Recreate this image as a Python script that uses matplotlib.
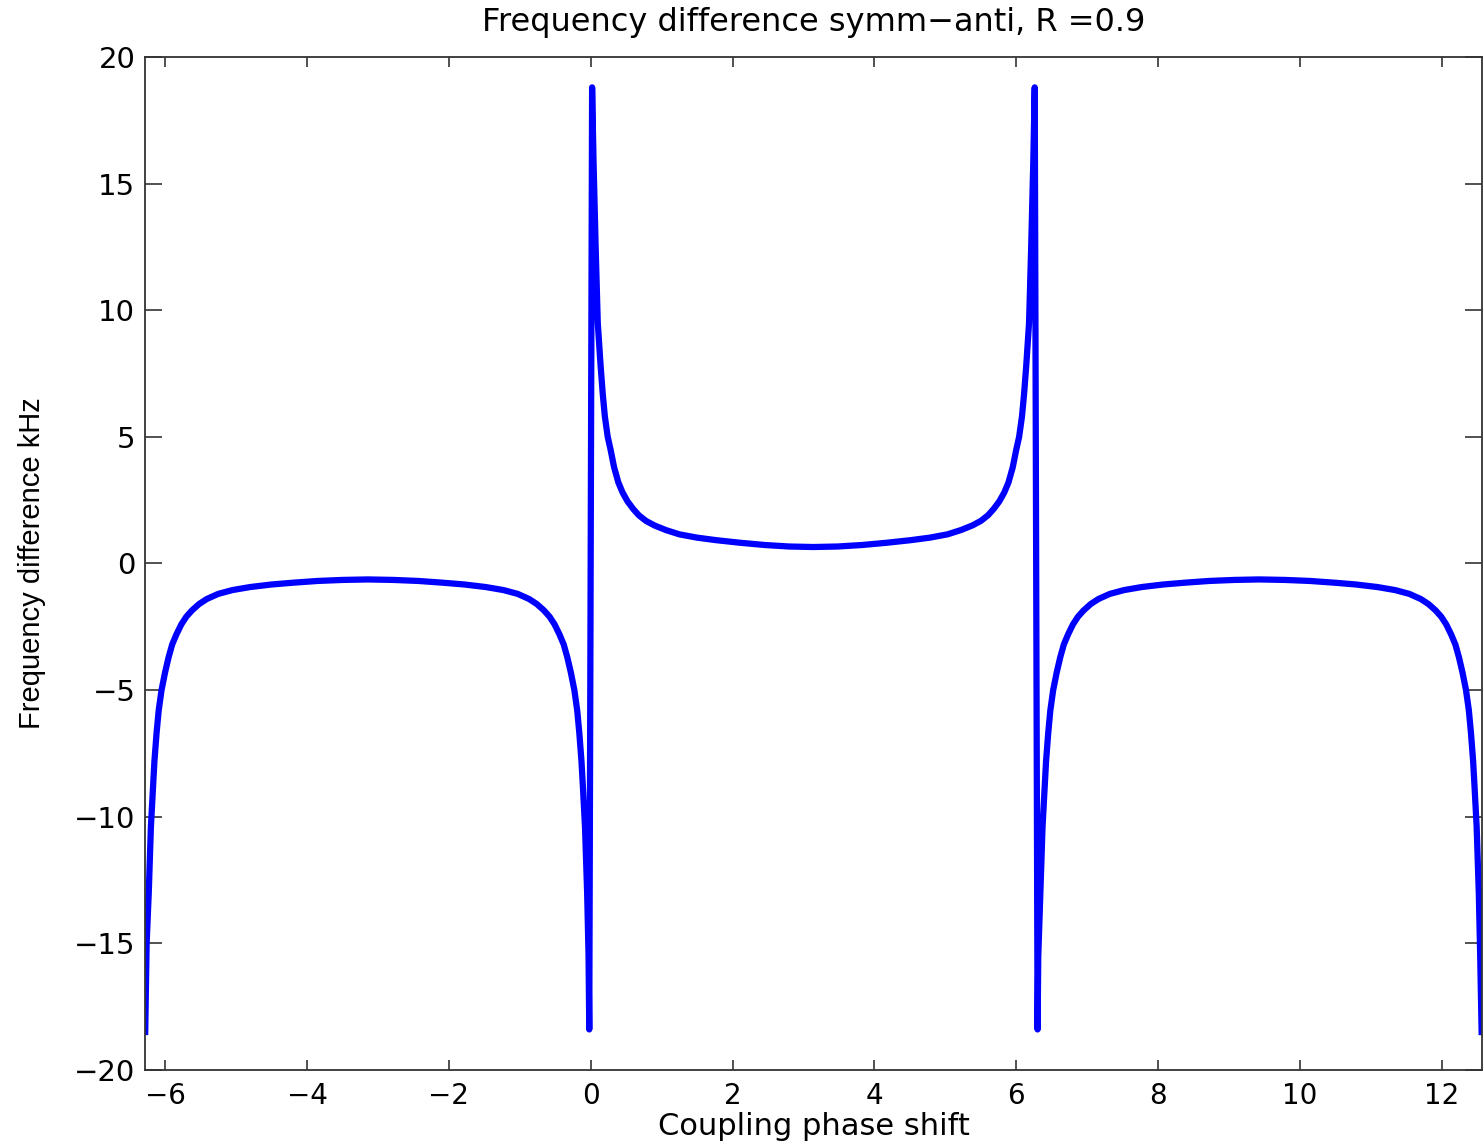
import numpy as np
import matplotlib
matplotlib.use("Agg")
import matplotlib.pyplot as plt

# values (phase in rad, difference in kHz)
phase = [
    # -2pi .. 0
    -6.28, -6.26, -6.23, -6.20, -6.17, -6.15, -6.12, -6.09, -6.05, -6.00,
    -5.95, -5.90, -5.84, -5.77, -5.70, -5.62, -5.52, -5.41, -5.25, -5.05,
    -4.80, -4.50, -4.20, -3.85, -3.50, -3.14, -2.78, -2.43, -2.08, -1.78,
    -1.48, -1.23, -1.03, -0.87, -0.76, -0.66, -0.58, -0.51, -0.44, -0.38,
    -0.33, -0.28, -0.23, -0.19, -0.16, -0.13, -0.11, -0.08, -0.05, -0.03,
    -0.02,
    # 0 .. 2pi
    0.02, 0.04, 0.07, 0.10, 0.14, 0.17, 0.20, 0.24, 0.28, 0.33,
    0.39, 0.45, 0.52, 0.60, 0.68, 0.78, 0.90, 1.06, 1.25, 1.50,
    1.77, 2.10, 2.45, 2.80, 3.14, 3.48, 3.83, 4.18, 4.51, 4.78,
    5.03, 5.22, 5.38, 5.50, 5.60, 5.68, 5.76, 5.83, 5.89, 5.95,
    6.00, 6.04, 6.08, 6.11, 6.14, 6.18, 6.21, 6.24, 6.26,
    # 2pi .. 4pi
    6.30, 6.31, 6.34, 6.37, 6.40, 6.42, 6.45, 6.48, 6.52, 6.57,
    6.62, 6.67, 6.73, 6.80, 6.87, 6.95, 7.05, 7.16, 7.32, 7.52,
    7.77, 8.07, 8.37, 8.72, 9.07, 9.42, 9.79, 10.14, 10.49, 10.79,
    11.09, 11.34, 11.54, 11.70, 11.81, 11.91, 11.99, 12.06, 12.13, 12.19,
    12.24, 12.29, 12.34, 12.38, 12.41, 12.44, 12.46, 12.49, 12.52, 12.54,
    12.56,
]
freq_diff = [
    -18.5, -15.0, -13.0, -10.4, -8.8, -7.8, -6.7, -5.8, -5.0, -4.3,
    -3.7, -3.2, -2.8, -2.4, -2.1, -1.85, -1.6, -1.4, -1.2, -1.05,
    -0.93, -0.83, -0.76, -0.69, -0.65, -0.63, -0.65, -0.69, -0.76, -0.83,
    -0.93, -1.05, -1.2, -1.4, -1.6, -1.85, -2.1, -2.4, -2.8, -3.2,
    -3.7, -4.3, -5.0, -5.8, -6.7, -7.8, -8.8, -10.4, -13.0, -15.5,
    -18.4,
    18.8, 15.9, 12.5, 9.5, 7.8, 6.7, 5.8, 5.0, 4.5, 3.8,
    3.2, 2.8, 2.45, 2.15, 1.9, 1.68, 1.5, 1.32, 1.15, 1.02,
    0.92, 0.82, 0.73, 0.67, 0.65, 0.67, 0.73, 0.82, 0.92, 1.02,
    1.15, 1.32, 1.5, 1.68, 1.9, 2.15, 2.45, 2.8, 3.2, 3.8,
    4.5, 5.0, 5.8, 6.7, 7.8, 9.5, 12.5, 15.9, 18.8,
    -18.4, -15.5, -13.0, -10.4, -8.8, -7.8, -6.7, -5.8, -5.0, -4.3,
    -3.7, -3.2, -2.8, -2.4, -2.1, -1.85, -1.6, -1.4, -1.2, -1.05,
    -0.93, -0.83, -0.76, -0.69, -0.65, -0.63, -0.65, -0.69, -0.76, -0.83,
    -0.93, -1.05, -1.2, -1.4, -1.6, -1.85, -2.1, -2.4, -2.8, -3.2,
    -3.7, -4.3, -5.0, -5.8, -6.7, -7.8, -8.8, -10.4, -13.0, -15.5,
    -18.5,
]
x_ticks = [-6, -4, -2, 0, 2, 4, 6, 8, 10, 12]
y_ticks = [-20, -15, -10, -5, 0, 5, 10, 15, 20]

plt.rcParams['font.family'] = ['DejaVu Sans']

fig = plt.figure(figsize=(14.84, 11.44), dpi=100)
ax = fig.add_axes([0.0977, 0.0647, 0.9010, 0.8855])

ax.plot(phase, freq_diff, color='#0000ff', linewidth=4.5)

ax.set_xlim(-2 * np.pi, 4 * np.pi)
ax.set_ylim(-20, 20)
ax.set_xticks(x_ticks)
ax.set_yticks(y_ticks)

for s in ax.spines.values():
    s.set_color('#333333')
    s.set_linewidth(1.3)

ax.tick_params(axis='both', direction='in', top=True, right=True,
               colors='#333333', labelcolor='black', width=1.2, labelsize=21)
ax.tick_params(axis='x', length=7, pad=9, labelsize=20)
ax.tick_params(axis='y', length=12, pad=7)

ax.set_title("Frequency difference symm\u2212anti, R =0.9", fontsize=23, pad=19)
ax.set_xlabel("Coupling phase shift", fontsize=22, labelpad=1)
ax.set_ylabel("Frequency difference kHz", fontsize=21, labelpad=20,
              family=['Liberation Sans Narrow', 'Liberation Sans', 'DejaVu Sans'])

fig.savefig("out.png", dpi=100)
